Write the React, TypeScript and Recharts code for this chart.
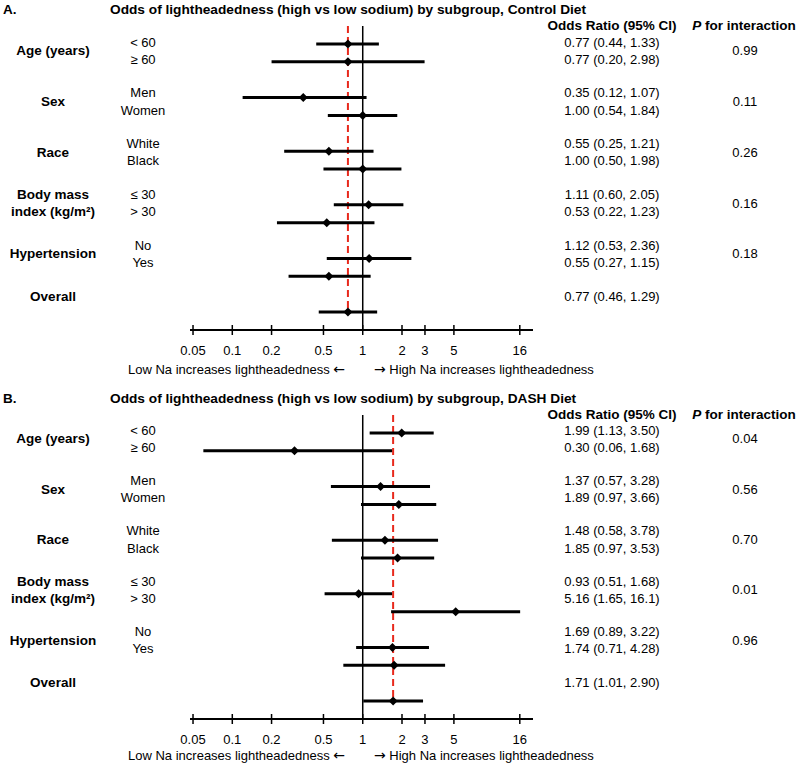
import { ScatterChart, Scatter, XAxis, YAxis, ErrorBar, ReferenceLine } from "recharts"

const groupLabels = [["Age (years)"], ["Sex"], ["Race"], ["Body mass", "index (kg/m²)"], ["Hypertension"], ["Overall"]]
const subgroupLabels = ["< 60", "≥ 60", "Men", "Women", "White", "Black", "≤ 30", "> 30", "No", "Yes", ""]
const rowGroup = [0, 0, 1, 1, 2, 2, 3, 3, 4, 4, 5]
const rowSub = [0, 1, 0, 1, 0, 1, 0, 1, 0, 1, 0]

const controlOR = [0.77, 0.77, 0.35, 1.0, 0.55, 1.0, 1.11, 0.53, 1.12, 0.55, 0.77]
const controlLow = [0.44, 0.2, 0.12, 0.54, 0.25, 0.5, 0.6, 0.22, 0.53, 0.27, 0.46]
const controlHigh = [1.33, 2.98, 1.07, 1.84, 1.21, 1.98, 2.05, 1.23, 2.36, 1.15, 1.29]
const controlP = ["0.99", "0.11", "0.26", "0.16", "0.18"]

const dashOR = [1.99, 0.3, 1.37, 1.89, 1.48, 1.85, 0.93, 5.16, 1.69, 1.74, 1.71]
const dashLow = [1.13, 0.06, 0.57, 0.97, 0.58, 0.97, 0.51, 1.65, 0.89, 0.71, 1.01]
const dashHigh = [3.5, 1.68, 3.28, 3.66, 3.78, 3.53, 1.68, 16.1, 3.22, 4.28, 2.9]
const dashP = ["0.04", "0.56", "0.70", "0.01", "0.96"]

const xTicks = [0.05, 0.1, 0.2, 0.5, 1, 2, 3, 5, 16]

const FONT = "'Liberation Sans', Arial, sans-serif"
const ARROW_FONT = "'DejaVu Sans', sans-serif"
const fmt = (v: number) => (v >= 10 ? v.toFixed(1) : v.toFixed(2))

const Diamond = (props: any) => {
  const { cx, cy } = props
  const r = 4.5
  return <polygon points={`${cx},${cy - r} ${cx + r},${cy} ${cx},${cy + r} ${cx - r},${cy}`} fill="#000" />
}

const AxisTick = (props: any) => {
  const { x, y, payload } = props
  return (
    <g>
      <line x1={x} x2={x} y1={y - 5} y2={y + 5} stroke="#000" strokeWidth={1.5} />
      <text x={x} y={y + 20} textAnchor="middle" dominantBaseline="central" fontSize={13} fontFamily={FONT} fill="#000">
        {payload.value}
      </text>
    </g>
  )
}

interface PanelProps {
  letter: string
  title: string
  or: number[]
  low: number[]
  high: number[]
  p: string[]
  height: number
  bottom: number
  textTop: number
  textStep: number
  footerY: number
}

function Panel({ letter, title, or, low, high, p, height, bottom, textTop, textStep, footerY }: PanelProps) {
  const rows = or.map((v, i) => ({
    or: v,
    pos: rowGroup[i] * 3 + rowSub[i],
    err: [v - low[i], high[i] - v],
  }))
  const overall = or[or.length - 1]
  const textY = (g: number, s: number) => textTop + g * textStep + s * 17.2

  return (
    <div style={{ position: "relative", width: 800, height }}>
      <ScatterChart width={800} height={height} margin={{ top: 26, right: 267, left: 190, bottom }}>
        <XAxis
          type="number"
          dataKey="or"
          scale="log"
          domain={[0.0474, 20.2]}
          allowDataOverflow
          ticks={xTicks}
          interval={0}
          tickSize={0}
          tickMargin={0}
          height={30}
          axisLine={{ stroke: "#000", strokeWidth: 2 }}
          tickLine={false}
          tick={<AxisTick />}
        />
        <YAxis type="number" dataKey="pos" domain={[-1, 16]} reversed hide />
        <ReferenceLine x={1} stroke="#000" strokeWidth={1.5} />
        <ReferenceLine
          segment={[{ x: overall, y: -1 }, { x: overall, y: 15 }]}
          stroke="#e8291c"
          strokeWidth={2}
          strokeDasharray="7 4"
        />
        <Scatter data={rows} shape={<Diamond />} isAnimationActive={false}>
          <ErrorBar dataKey="err" direction="x" width={0} stroke="#000" strokeWidth={3} />
        </Scatter>
      </ScatterChart>
      <svg
        width={800}
        height={height}
        style={{ position: "absolute", left: 0, top: 0, pointerEvents: "none" }}
        fontFamily={FONT}
        fontSize={13}
        fill="#000"
      >
        <text x={3} y={9} dominantBaseline="central" fontWeight="bold" fontSize={13.5}>{letter}</text>
        <text x={110} y={9} dominantBaseline="central" fontWeight="bold" fontSize={13.7}>{title}</text>
        <text x={612} y={25} textAnchor="middle" dominantBaseline="central" fontWeight="bold" fontSize={13.5}>Odds Ratio (95% CI)</text>
        <text x={744} y={25} textAnchor="middle" dominantBaseline="central" fontWeight="bold" fontSize={13.5}>
          <tspan fontStyle="italic">P</tspan> for interaction
        </text>
        {groupLabels.map((lines, g) => {
          const single = g === groupLabels.length - 1
          if (lines.length === 2) {
            return lines.map((l, k) => (
              <text key={`g${g}${k}`} x={53} y={textY(g, k)} textAnchor="middle" dominantBaseline="central" fontWeight="bold" fontSize={13.5}>{l}</text>
            ))
          }
          return (
            <text key={`g${g}`} x={53} y={single ? textY(g, 0) : textY(g, 0.5)} textAnchor="middle" dominantBaseline="central" fontWeight="bold" fontSize={13.5}>
              {lines[0]}
            </text>
          )
        })}
        {subgroupLabels.map((l, i) => (
          <text key={`s${i}`} x={143} y={textY(rowGroup[i], rowSub[i])} textAnchor="middle" dominantBaseline="central">{l}</text>
        ))}
        {or.map((v, i) => (
          <text key={`o${i}`} x={612} y={textY(rowGroup[i], rowSub[i])} textAnchor="middle" dominantBaseline="central">
            {`${fmt(v)} (${fmt(low[i])}, ${fmt(high[i])})`}
          </text>
        ))}
        {p.map((v, g) => (
          <text key={`p${g}`} x={745} y={textY(g, 0.5)} textAnchor="middle" dominantBaseline="central">{v}</text>
        ))}
        <text x={345} y={footerY} textAnchor="end" dominantBaseline="central">
          Low Na increases lightheadedness <tspan fontFamily={ARROW_FONT} fontSize={14}>←</tspan>
        </text>
        <text x={374} y={footerY} dominantBaseline="central">
          <tspan fontFamily={ARROW_FONT} fontSize={14}>→</tspan> High Na increases lightheadedness
        </text>
      </svg>
    </div>
  )
}

export default function App() {
  return (
    <div style={{ width: 800, height: 765, background: "#fff" }}>
      <style>{"body{margin:0}"}</style>
      <Panel
        letter="A."
        title="Odds of lightheadedness (high vs low sodium) by subgroup, Control Diet"
        or={controlOR}
        low={controlLow}
        high={controlHigh}
        p={controlP}
        height={389}
        bottom={29}
        textTop={42}
        textStep={50.8}
        footerY={369}
      />
      <Panel
        letter="B."
        title="Odds of lightheadedness (high vs low sodium) by subgroup, DASH Diet"
        or={dashOR}
        low={dashLow}
        high={dashHigh}
        p={dashP}
        height={376}
        bottom={16}
        textTop={41}
        textStep={50.4}
        footerY={366}
      />
    </div>
  )
}
